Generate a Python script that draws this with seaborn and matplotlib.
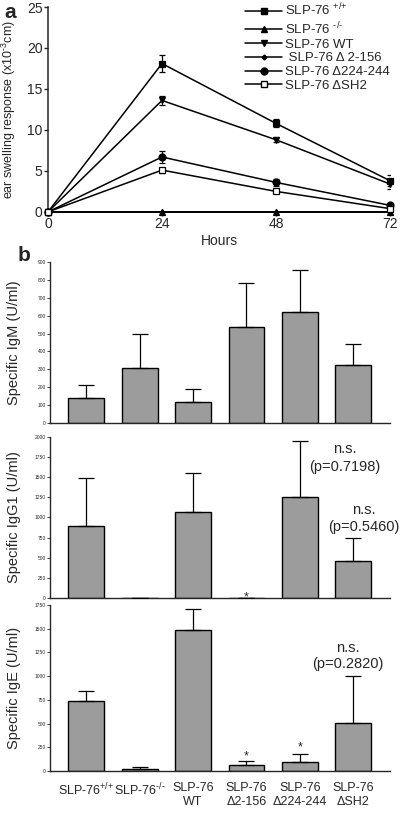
"""
SLP-76 ear swelling time course (a) and specific Ig titres (b)
"""

import numpy as np
import pandas as pd
import matplotlib
matplotlib.use("Agg")
import matplotlib.pyplot as plt
import seaborn as sns

sns.set_style("ticks")
plt.rcParams['font.family'] = ['Liberation Sans', 'DejaVu Sans']
plt.rcParams['mathtext.fontset'] = 'custom'
plt.rcParams['mathtext.rm'] = 'Liberation Sans'

# ---- panel a data ----
hours = [0, 24, 48, 72]
series_names = [r"SLP-76 $^{\text{+/+}}$", r"SLP-76 $^{\text{-/-}}$", "SLP-76 WT",
                " SLP-76 Δ 2-156", "SLP-76 Δ224-244", "SLP-76 ΔSH2"]
swell_wt_pp = [0, 18.1, 10.8, 3.8]
swell_ko = [0, 0, 0, 0]
swell_wt = [0, 13.6, 8.8, 3.4]
swell_d2_156 = [0, 0, 0, 0]
swell_d224_244 = [0, 6.7, 3.6, 0.8]
swell_dsh2 = [0, 5.1, 2.5, 0.4]
err_wt_pp = [0, 1.0, 0.5, 0.7]
err_ko = [0, 0, 0, 0]
err_wt = [0, 0.6, 0.3, 0.6]
err_d2_156 = [0, 0, 0, 0]
err_d224_244 = [0, 0.7, 0.4, 0.2]
err_dsh2 = [0, 0.3, 0.2, 0.2]

# ---- panel b data ----
groups = [r"SLP-76$^{\text{+/+}}$", r"SLP-76$^{\text{-/-}}$", "SLP-76\nWT",
          "SLP-76\nΔ2-156", "SLP-76\nΔ224-244", "SLP-76\nΔSH2"]
igm_mean = [140, 307, 117, 537, 620, 324]
igm_err = [72, 190, 73, 246, 235, 117]
igg1_mean = [894, 0, 1068, 0, 1255, 460]
igg1_err = [596, 0, 485, 0, 695, 285]
ige_mean = [738, 25, 1486, 60, 95, 506]
ige_err = [105, 20, 222, 45, 85, 494]

fig = plt.figure(figsize=(4.0, 8.15), dpi=100)

# ================= panel a =================
ax_a = fig.add_axes([0.12, 0.740, 0.855, 0.2514])
values = [swell_wt_pp, swell_ko, swell_wt, swell_d2_156, swell_d224_244, swell_dsh2]
errors = [err_wt_pp, err_ko, err_wt, err_d2_156, err_d224_244, err_dsh2]
markers = ['s', '^', 'v', 'D', 'o', 's']
msizes = [5, 5, 5, 2.5, 5, 5]
faces = ['black', 'black', 'black', 'black', 'black', 'white']

rows = []
for name, vals in zip(series_names, values):
    for h, v in zip(hours, vals):
        rows.append({"Hours": h, "resp": v, "group": name})
df_a = pd.DataFrame(rows)

handles = []
for name, vals, errs, m, ms, fc in zip(series_names, values, errors, markers, msizes, faces):
    sub = df_a[df_a["group"] == name]
    sns.lineplot(data=sub, x="Hours", y="resp", ax=ax_a, color='black', lw=1.1,
                 marker=m, markersize=ms, markerfacecolor=fc, markeredgecolor='black',
                 markeredgewidth=0.9, clip_on=False, zorder=3)
    ax_a.errorbar(hours, vals, yerr=errs, fmt='none', ecolor='black',
                  elinewidth=0.9, capsize=2.5, capthick=0.9, zorder=2)
    handles.append(plt.Line2D([], [], color='black', lw=1.1, marker=m, markersize=ms,
                              markerfacecolor=fc, markeredgecolor='black'))

ax_a.set_xlim(0, 72)
ax_a.set_ylim(0, 25)
ax_a.set_xticks(hours)
ax_a.set_yticks([0, 5, 10, 15, 20, 25])
ax_a.tick_params(labelsize=10, length=3, width=1, pad=1)
ax_a.set_xlabel("Hours", fontsize=10, labelpad=2)
ax_a.set_ylabel(r"ear swelling response (x10$^{\text{-3}}$cm)", fontsize=9,
                family=['Liberation Sans Narrow', 'Liberation Sans'])
ax_a.yaxis.set_label_coords(-0.088, 0.5)
sns.despine(ax=ax_a)
for s in ax_a.spines.values():
    s.set_linewidth(1.1)
fig.legend(handles, series_names, loc='upper left', bbox_to_anchor=(0.60, 1.004),
           frameon=False, fontsize=9.5, handlelength=2.8, handletextpad=0.2,
           labelspacing=0.12, borderaxespad=0)
fig.text(0.012, 0.985, "a", fontsize=15, fontweight='bold', va='center')

# ================= panel b =================
fig.text(0.045, 0.687, "b", fontsize=15, fontweight='bold', va='center')

panels = [
    ("Specific IgM (U/ml)", igm_mean, igm_err, [0.125, 0.481, 0.85, 0.1975], 900, 100),
    ("Specific IgG1 (U/ml)", igg1_mean, igg1_err, [0.125, 0.2663, 0.85, 0.1975], 2000, 250),
    ("Specific IgE (U/ml)", ige_mean, ige_err, [0.125, 0.054, 0.85, 0.2037], 1750, 250),
]
axes_b = []
for label, means, errs, rect, top, step in panels:
    ax = fig.add_axes(rect)
    df = pd.DataFrame({"group": groups, "value": means})
    sns.barplot(data=df, x="group", y="value", ax=ax, color="#9c9c9c",
                edgecolor='black', linewidth=1.0, width=0.67, saturation=1,
                errorbar=None)
    xs = np.arange(len(groups))
    ax.errorbar(xs, means, yerr=[np.zeros(len(errs)), errs], fmt='none',
                ecolor='black', elinewidth=0.9, capsize=6, capthick=0.9, zorder=3)
    ax.set_xlim(-0.68, 5.69)
    ax.set_ylim(0, top)
    ax.set_yticks(np.arange(0, top + 1, step))
    ax.tick_params(axis='y', labelsize=3.5, length=2, width=0.6, pad=1)
    ax.set_xlabel("")
    ax.set_ylabel(label, fontsize=10.5)
    ax.yaxis.set_label_coords(-0.085, 0.5)
    sns.despine(ax=ax)
    for s in ax.spines.values():
        s.set_linewidth(1.0)
    axes_b.append(ax)

for ax in axes_b[:2]:
    ax.set_xticks([])
axes_b[2].tick_params(axis='x', labelsize=9, length=0, pad=8)
for lab, dx in zip(axes_b[2].get_xticklabels(), [-0.15, 0, 0, 0, 0, 0]):
    lab.set_x(lab.get_position()[0] + dx)

# annotations
ax_g = axes_b[1]
ax_g.text(3.0, 10, "*", ha='center', va='center', fontsize=9)
ax_g.text(4.85, 1850, "n.s.", ha='center', va='center', fontsize=10.5)
ax_g.text(4.85, 1625, "(p=0.7198)", ha='center', va='center', fontsize=10.5)
ax_g.text(5.2, 1090, "n.s.", ha='center', va='center', fontsize=10.5)
ax_g.text(5.2, 880, "(p=0.5460)", ha='center', va='center', fontsize=10.5)

ax_e = axes_b[2]
ax_e.text(3.0, 155, "*", ha='center', va='center', fontsize=9)
ax_e.text(4.0, 245, "*", ha='center', va='center', fontsize=9)
ax_e.text(4.9, 1300, "n.s.", ha='center', va='center', fontsize=10.5)
ax_e.text(4.9, 1130, "(p=0.2820)", ha='center', va='center', fontsize=10.5)

fig.savefig("out.png", dpi=100)
